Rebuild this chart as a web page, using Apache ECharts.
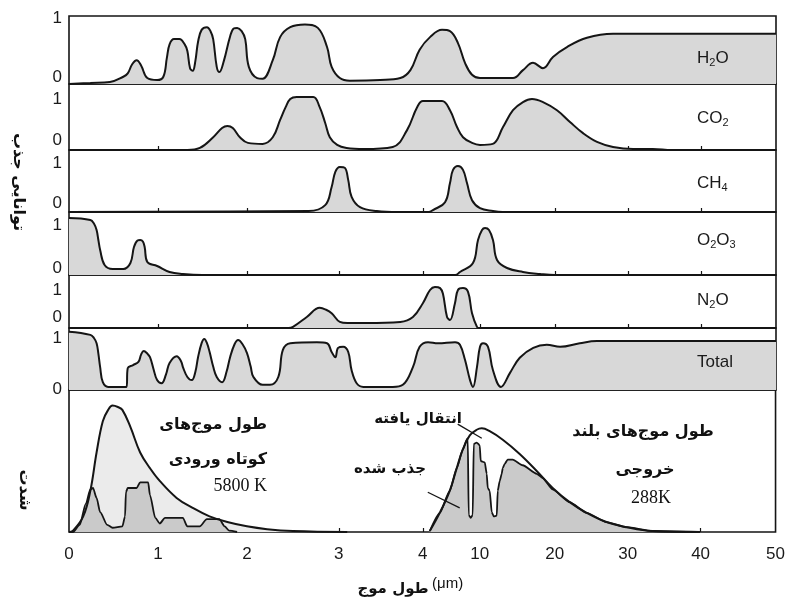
<!DOCTYPE html>
<html>
<head>
<meta charset="utf-8">
<script src="https://cdn.jsdelivr.net/npm/echarts@6/dist/echarts.min.js"></script>
<style>
  html, body { margin: 0; padding: 0; background: #fff; }
  #chart { width: 788px; height: 598px; }
</style>
</head>
<body>
<div id="chart"></div>
<script>
// Broken wavelength scale: tick values (μm) and where each one sits along the plot width
const tickWavelengths = [0, 1, 2, 3, 4, 10, 20, 30, 40, 50];
const tickOffsets = [0, 89, 178, 270, 354, 411, 486, 559, 632, 707];
const tickLabels = ['0', '1', '2', '3', '4', '10', '20', '30', '40', '50'];

// Absorptivity of each gas: [wavelength μm, absorptivity]
const h2o = [[0,0],[0.24,0.015],[0.46,0.03],[0.61,0.11],[0.66,0.16],[0.71,0.3],[0.76,0.36],[0.81,0.28],[0.88,0.09],[0.99,0.06],[1.06,0.11],[1.10,0.4],[1.13,0.6],[1.18,0.68],[1.24,0.68],[1.30,0.6],[1.33,0.5],[1.36,0.24],[1.39,0.2],[1.42,0.35],[1.45,0.64],[1.49,0.82],[1.55,0.86],[1.59,0.8],[1.62,0.68],[1.66,0.26],[1.69,0.18],[1.74,0.35],[1.81,0.72],[1.85,0.84],[1.89,0.85],[1.94,0.8],[1.98,0.68],[2.02,0.26],[2.11,0.09],[2.17,0.08],[2.28,0.36],[2.36,0.71],[2.47,0.86],[2.63,0.9],[2.77,0.85],[2.87,0.56],[2.92,0.26],[3.01,0.09],[3.13,0.05],[3.49,0.06],[3.73,0.09],[3.85,0.21],[3.96,0.52],[4.74,0.71],[6.0,0.82],[6.84,0.8],[7.68,0.62],[8.42,0.32],[9.16,0.14],[10.0,0.09],[14.4,0.09],[15.73,0.21],[17.07,0.32],[18.4,0.24],[19.73,0.41],[21.64,0.56],[24.38,0.7],[27.95,0.76],[35,0.76],[50,0.76]];
const co2 = [[0,0],[1.33,0],[1.47,0.04],[1.62,0.25],[1.72,0.43],[1.78,0.47],[1.84,0.43],[1.92,0.25],[2.01,0.14],[2.17,0.12],[2.28,0.25],[2.36,0.59],[2.42,0.84],[2.47,1.0],[2.54,1.04],[2.72,1.04],[2.79,0.84],[2.85,0.53],[2.90,0.25],[2.98,0.1],[3.09,0.04],[3.3,0.02],[3.64,0.06],[3.81,0.39],[3.93,0.84],[4.0,0.96],[6.0,0.96],[6.84,0.78],[7.58,0.45],[8.21,0.25],[9.16,0.14],[10.0,0.1],[11.7,0.12],[13.07,0.45],[14.4,0.78],[15.73,0.94],[16.93,1.0],[18.4,0.94],[20.27,0.78],[22.05,0.55],[23.84,0.33],[25.75,0.16],[27.95,0.06],[30.7,0.02],[33.4,0.02],[36,0],[50,0]];
const ch4 = [[0,0],[2.67,0.02],[2.85,0.14],[2.92,0.51],[2.96,0.82],[3.01,0.92],[3.07,0.9],[3.11,0.65],[3.15,0.31],[3.25,0.1],[3.45,0.02],[3.7,0],[4.6,0],[5.05,0.04],[6.32,0.2],[6.84,0.59],[7.16,0.86],[7.68,0.94],[8.21,0.86],[8.63,0.59],[9.16,0.24],[10.0,0.08],[11.73,0.02],[13,0],[50,0]];
const o2o3 = [[0,1.14],[0.24,1.1],[0.28,1.03],[0.31,0.9],[0.33,0.7],[0.35,0.5],[0.40,0.2],[0.49,0.12],[0.61,0.12],[0.69,0.24],[0.73,0.56],[0.77,0.69],[0.80,0.70],[0.83,0.67],[0.85,0.56],[0.88,0.26],[0.99,0.18],[1.13,0.06],[1.28,0.02],[1.5,0],[7.4,0],[7.89,0.06],[9.26,0.24],[9.79,0.7],[10.27,0.9],[10.67,0.94],[11.2,0.9],[11.73,0.7],[12.27,0.3],[13.6,0.14],[15.73,0.06],[18,0.02],[20,0],[50,0]];
const n2o = [[0,0],[2.45,0],[2.5,0.03],[2.65,0.29],[2.79,0.53],[2.86,0.48],[2.92,0.39],[3.01,0.16],[3.1,0.13],[3.33,0.13],[3.73,0.16],[3.88,0.29],[4.0,0.66],[4.74,1.0],[5.26,1.08],[5.8,1.05],[6.1,0.9],[6.53,0.29],[6.84,0.21],[7.37,0.66],[7.68,1.0],[8.21,1.05],[8.74,0.95],[9.16,0.39],[9.68,0.03],[9.9,0],[50,0]];
const total = [[0,1.12],[0.24,1.06],[0.28,1.0],[0.31,0.9],[0.33,0.7],[0.35,0.44],[0.38,0.15],[0.44,0.06],[0.645,0.06],[0.66,0.42],[0.72,0.48],[0.78,0.54],[0.81,0.68],[0.84,0.75],[0.88,0.7],[0.91,0.63],[0.95,0.4],[0.99,0.19],[1.04,0.13],[1.09,0.3],[1.13,0.52],[1.21,0.65],[1.26,0.55],[1.28,0.44],[1.33,0.25],[1.38,0.19],[1.42,0.35],[1.45,0.63],[1.49,0.9],[1.52,0.98],[1.55,0.9],[1.58,0.73],[1.62,0.45],[1.66,0.25],[1.72,0.15],[1.77,0.35],[1.81,0.63],[1.86,0.88],[1.90,0.96],[1.95,0.88],[2.0,0.71],[2.04,0.45],[2.07,0.25],[2.17,0.1],[2.25,0.1],[2.34,0.25],[2.39,0.77],[2.47,0.9],[2.76,0.92],[2.87,0.9],[2.92,0.73],[2.96,0.63],[2.99,0.81],[3.05,0.83],[3.11,0.73],[3.15,0.38],[3.21,0.13],[3.29,0.06],[3.64,0.06],[3.76,0.1],[3.88,0.44],[3.96,0.83],[4.53,0.92],[5.58,0.9],[7.37,0.92],[7.89,0.87],[8.42,0.58],[8.95,0.19],[9.26,0.06],[9.68,0.44],[10.0,0.83],[10.4,0.9],[11.07,0.83],[11.73,0.38],[12.8,0.06],[14.0,0.33],[15.3,0.62],[17.1,0.81],[18.9,0.87],[20.7,0.83],[23.4,0.9],[25.75,0.94],[50,0.94]];

// Relative intensity: incoming sunlight (5800 K) and outgoing Earth radiation (288 K)
const solarEmitted = [[0,0],[0.045,0.01],[0.16,0.11],[0.24,0.29],[0.31,0.56],[0.38,0.78],[0.44,0.86],[0.49,0.89],[0.55,0.88],[0.60,0.86],[0.69,0.74],[0.80,0.56],[0.91,0.45],[1.02,0.36],[1.21,0.24],[1.39,0.17],[1.58,0.11],[1.78,0.07],[2.0,0.04],[2.22,0.02],[2.5,0.007],[3.1,0]];
const solarTransmitted = [[0,0],[0.045,0],[0.12,0.05],[0.19,0.2],[0.24,0.3],[0.27,0.31],[0.31,0.24],[0.35,0.14],[0.43,0.05],[0.49,0.03],[0.60,0.04],[0.63,0.11],[0.64,0.28],[0.66,0.31],[0.76,0.31],[0.80,0.35],[0.89,0.35],[0.91,0.26],[0.97,0.1],[1.02,0.06],[1.08,0.1],[1.28,0.1],[1.33,0.04],[1.47,0.04],[1.55,0.09],[1.69,0.09],[1.75,0.04],[1.80,0.01],[1.89,0]];
const earthEmitted = [[4.74,0.007],[5.79,0.135],[6.84,0.29],[7.58,0.45],[8.21,0.58],[8.95,0.68],[9.68,0.72],[10.27,0.73],[11.33,0.71],[13.07,0.65],[15.33,0.55],[17.6,0.43],[19.73,0.31],[22.05,0.21],[24.38,0.135],[27.1,0.07],[29.86,0.034],[33.4,0.007],[39.9,0]];
const earthTransmitted = [[4.74,0.007],[5.79,0.135],[6.84,0.29],[7.58,0.45],[8.21,0.58],[8.63,0.65],[8.74,0.66],[8.84,0.12],[9.05,0.10],[9.26,0.12],[9.37,0.62],[9.68,0.63],[10.0,0.61],[10.13,0.50],[10.67,0.49],[10.93,0.41],[11.07,0.31],[11.33,0.29],[11.6,0.14],[11.87,0.11],[12.27,0.115],[12.4,0.29],[12.67,0.36],[12.93,0.41],[13.07,0.45],[13.33,0.48],[13.73,0.51],[14.4,0.51],[15.73,0.47],[17.6,0.41],[18.4,0.38],[19.73,0.30],[22.05,0.21],[24.38,0.135],[27.1,0.07],[29.86,0.034],[33.4,0.007],[39.9,0]];

// Leader lines for the two annotations: [wavelength, intensity] end points
const pointerTransmitted = [[7.68, 0.76], [10.27, 0.66]];
const pointerAbsorbed = [[4.53, 0.28], [7.89, 0.17]];

// Texts
const absorptionTitle = 'توانایی جذب';
const intensityTitle = 'شدت';
const solarText = ['طول موج‌های', 'کوتاه ورودی', '5800 K'];
const earthText = ['طول موج‌های بلند', 'خروجی', '288K'];
const transmittedText = 'انتقال یافته';
const absorbedText = 'جذب شده';

// Map a wavelength onto the broken axis
function toPos(w) {
  const n = tickWavelengths.length;
  for (let i = 0; i < n - 1; i++) {
    const a = tickWavelengths[i], b = tickWavelengths[i + 1];
    if (w <= b || i === n - 2) {
      return tickOffsets[i] + (w - a) / (b - a) * (tickOffsets[i + 1] - tickOffsets[i]);
    }
  }
}
const toXY = arr => arr.map(([w, v]) => [toPos(w), v]);

const INK = '#151515';
const GAS_FILL = '#d8d8d8';
const SANS = '"Liberation Sans", Arial, sans-serif';
const FA = '"DejaVu Sans", sans-serif';
const SERIF = '"Liberation Serif", "Times New Roman", serif';

const plotLeft = 69, plotWidth = 707;

// Gas panels, top to bottom
const panels = [
  { data: h2o,   name: '{n|H}{s|2}{n|O}',        top: 16,  height: 68, max: 1.03,  zeroAt: 0.106, labelY: 58 },
  { data: co2,   name: '{n|CO}{s|2}',            top: 84,  height: 66, max: 1.294, zeroAt: 0.196, labelY: 118 },
  { data: ch4,   name: '{n|CH}{s|4}',            top: 150, height: 62, max: 1.265, zeroAt: 0.18,  labelY: 183 },
  { data: o2o3,  name: '{n|O}{s|2}{n|O}{s|3}',   top: 212, height: 63, max: 1.26,  zeroAt: 0.14,  labelY: 240 },
  { data: n2o,   name: '{n|N}{s|2}{n|O}',        top: 275, height: 53, max: 1.395, zeroAt: 0.29,  labelY: 300 },
  { data: total, name: '{n|Total}',              top: 328, height: 62, max: 1.192, zeroAt: 0.02,  labelY: 362 }
];
const bottomPanel = { top: 390, height: 148 };

const grids = [], xAxes = [], yAxes = [], series = [], graphics = [];

function makeXAxis(idx, withLabels) {
  return {
    gridIndex: idx, type: 'value', min: 0, max: plotWidth,
    axisLine: { show: false },
    splitLine: { show: false },
    axisTick: {
      show: true, inside: true, length: 4,
      customValues: tickOffsets.slice(1, -1),
      lineStyle: { color: INK, width: 1.2 }
    },
    axisLabel: {
      show: withLabels,
      customValues: tickOffsets,
      margin: 14,
      fontSize: 17, color: '#1a1a1a', fontFamily: SANS,
      formatter: v => {
        const i = tickOffsets.findIndex(p => Math.abs(p - v) < 0.5);
        return i >= 0 ? tickLabels[i] : '';
      }
    }
  };
}

panels.forEach((p, i) => {
  grids.push({ left: plotLeft, width: plotWidth, top: p.top, height: p.height, show: true, borderColor: INK, borderWidth: 1.6 });
  xAxes.push(makeXAxis(i, false));
  yAxes.push({
    gridIndex: i, type: 'value', min: 0, max: p.max,
    axisLine: { show: false }, axisTick: { show: false }, splitLine: { show: false },
    axisLabel: {
      customValues: [p.zeroAt, 1], margin: 7,
      fontSize: 17, color: '#1a1a1a', fontFamily: SANS,
      formatter: v => (v > 0.5 ? '1' : '0')
    }
  });
  series.push({
    type: 'line', xAxisIndex: i, yAxisIndex: i, data: toXY(p.data),
    smooth: 0.4, symbol: 'none', silent: true,
    lineStyle: { color: INK, width: 2 },
    areaStyle: { color: GAS_FILL, opacity: 1 }
  });
  graphics.push({
    type: 'text', x: 697, y: p.labelY, z: 100,
    style: {
      text: p.name, verticalAlign: 'middle', align: 'left',
      rich: {
        n: { fontSize: 17, fontFamily: SANS, fill: '#1a1a1a' },
        s: { fontSize: 11, fontFamily: SANS, fill: '#1a1a1a', padding: [9, 0, 0, 0] }
      }
    }
  });
});

const b = panels.length;
grids.push({ left: plotLeft, width: plotWidth, top: bottomPanel.top, height: bottomPanel.height, show: true, borderColor: INK, borderWidth: 1.6 });
const bottomX = makeXAxis(b, true);
bottomX.name = '{a|طول موج} {b|(μm)}';
bottomX.nameLocation = 'middle';
bottomX.nameGap = 44;
bottomX.nameTextStyle = {
  padding: [0, 24, 0, 0],
  rich: {
    a: { fontSize: 15, fontWeight: 'bold', fontFamily: FA, color: '#111' },
    b: { fontSize: 15, fontFamily: SANS, color: '#111', padding: [0, 0, 12, 0] }
  }
};
xAxes.push(bottomX);
yAxes.push({ gridIndex: b, type: 'value', min: 0, max: 1, show: false, splitLine: { show: false } });

series.push(
  { type: 'line', xAxisIndex: b, yAxisIndex: b, data: toXY(solarEmitted), smooth: 0.4, symbol: 'none', silent: true,
    lineStyle: { color: INK, width: 2 }, areaStyle: { color: '#ebebeb', opacity: 1 } },
  { type: 'line', xAxisIndex: b, yAxisIndex: b, data: toXY(solarTransmitted), smooth: 0.25, smoothMonotone: 'x', symbol: 'none', silent: true,
    lineStyle: { color: INK, width: 1.8 }, areaStyle: { color: '#cacaca', opacity: 1 } },
  { type: 'line', xAxisIndex: b, yAxisIndex: b, data: toXY(earthTransmitted), smooth: 0.2, smoothMonotone: 'x', symbol: 'none', silent: true,
    lineStyle: { color: INK, width: 1.8 }, areaStyle: { color: '#cacaca', opacity: 1 },
    markLine: {
      silent: true, symbol: ['none', 'none'], label: { show: false },
      lineStyle: { color: INK, width: 1.3, type: 'solid' },
      data: [
        [{ coord: [toPos(pointerTransmitted[0][0]), pointerTransmitted[0][1]] }, { coord: [toPos(pointerTransmitted[1][0]), pointerTransmitted[1][1]] }],
        [{ coord: [toPos(pointerAbsorbed[0][0]), pointerAbsorbed[0][1]] }, { coord: [toPos(pointerAbsorbed[1][0]), pointerAbsorbed[1][1]] }]
      ]
    } },
  { type: 'line', xAxisIndex: b, yAxisIndex: b, data: toXY(earthEmitted), smooth: 0.4, symbol: 'none', silent: true,
    lineStyle: { color: INK, width: 2 } }
);

// Vertical axis titles (read top to bottom)
graphics.push(
  { type: 'text', x: 18, y: 182, z: 100, rotation: -Math.PI / 2,
    style: { text: absorptionTitle, align: 'center', verticalAlign: 'middle', font: 'bold 16px ' + FA, fill: '#111' } },
  { type: 'text', x: 24, y: 490, z: 100, rotation: -Math.PI / 2,
    style: { text: intensityTitle, align: 'center', verticalAlign: 'middle', font: 'bold 16px ' + FA, fill: '#111' } }
);

// Annotations inside the radiation panel
const faBold = 'bold 16px ' + FA;
graphics.push(
  { type: 'text', x: 267, y: 425, z: 100, style: { text: solarText[0], align: 'right', verticalAlign: 'middle', font: faBold, fill: '#111' } },
  { type: 'text', x: 267, y: 460, z: 100, style: { text: solarText[1], align: 'right', verticalAlign: 'middle', font: faBold, fill: '#111' } },
  { type: 'text', x: 267, y: 486, z: 100, style: { text: solarText[2], align: 'right', verticalAlign: 'middle', font: '18px ' + SERIF, fill: '#111' } },
  { type: 'text', x: 643, y: 432, z: 100, style: { text: earthText[0], align: 'center', verticalAlign: 'middle', font: faBold, fill: '#111' } },
  { type: 'text', x: 645, y: 470, z: 100, style: { text: earthText[1], align: 'center', verticalAlign: 'middle', font: faBold, fill: '#111' } },
  { type: 'text', x: 651, y: 498, z: 100, style: { text: earthText[2], align: 'center', verticalAlign: 'middle', font: '18px ' + SERIF, fill: '#111' } },
  { type: 'text', x: 462, y: 419, z: 100, style: { text: transmittedText, align: 'right', verticalAlign: 'middle', font: 'bold 15px ' + FA, fill: '#111' } },
  { type: 'text', x: 426, y: 469, z: 100, style: { text: absorbedText, align: 'right', verticalAlign: 'middle', font: 'bold 15px ' + FA, fill: '#111' } }
);

const chart = echarts.init(document.getElementById('chart'), null, { renderer: 'canvas' });
chart.setOption({
  animation: false,
  backgroundColor: '#fff',
  grid: grids,
  xAxis: xAxes,
  yAxis: yAxes,
  series: series,
  graphic: graphics
});
</script>
</body>
</html>
